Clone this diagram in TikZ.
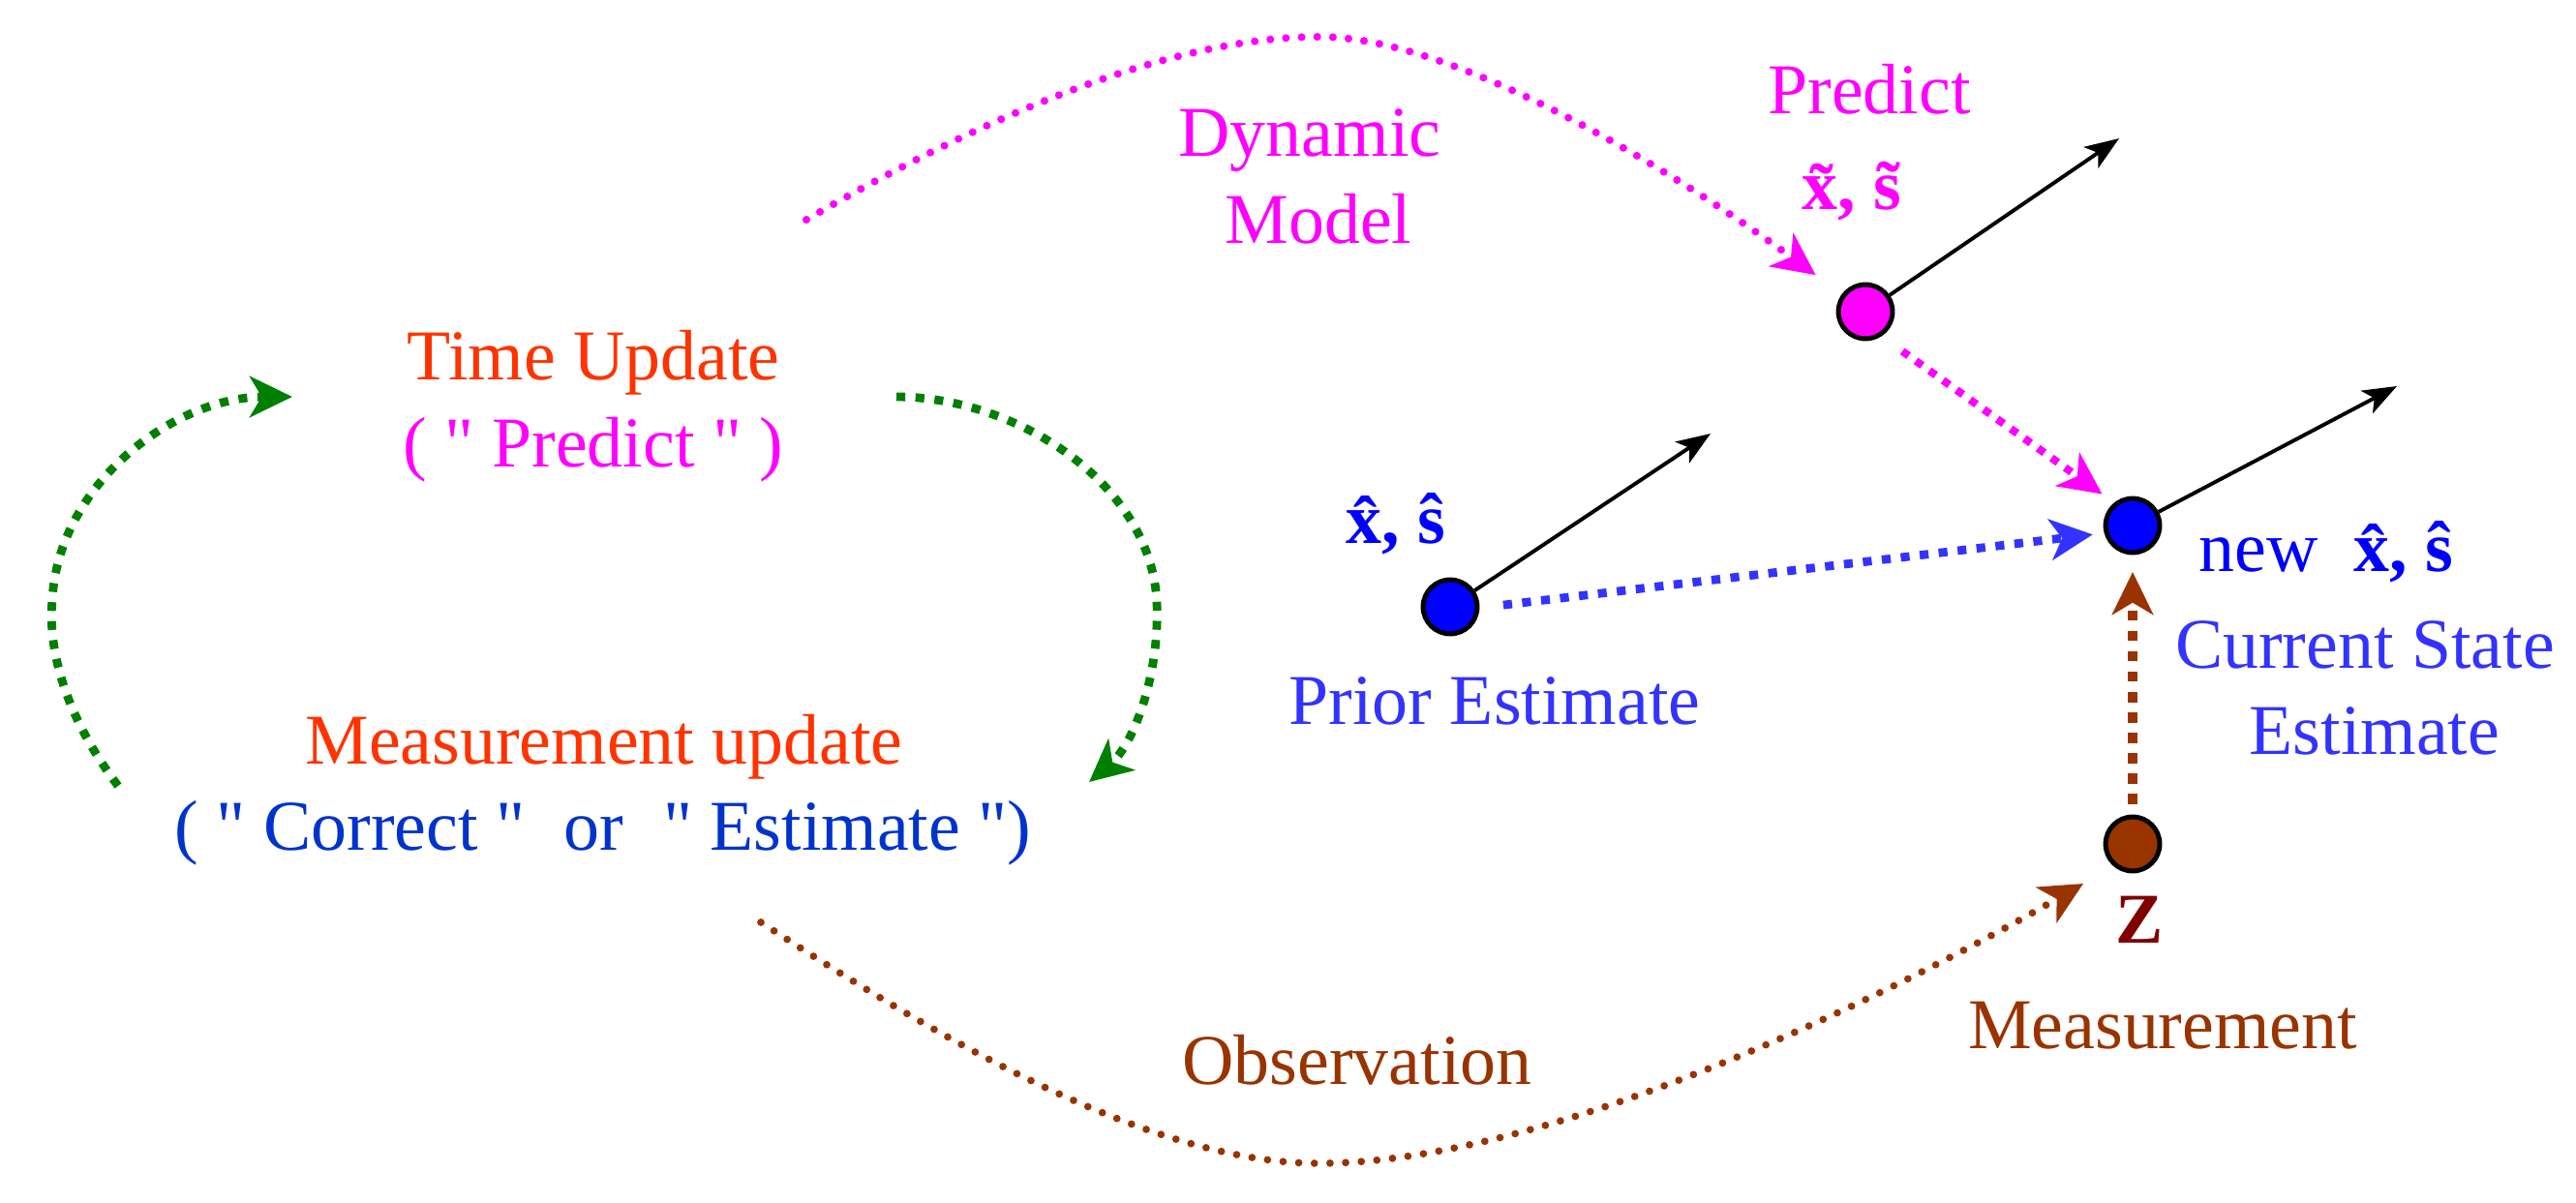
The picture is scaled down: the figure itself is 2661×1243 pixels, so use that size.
\documentclass[tikz,border=0pt]{standalone}
\usepackage{fontspec}
\newfontfamily\tms{Liberation Serif}
\usetikzlibrary{arrows.meta}
\definecolor{tuorange}{HTML}{FF3300}
\definecolor{pinkm}{HTML}{FF00FF}
\definecolor{cblue}{HTML}{0033CC}
\definecolor{lblue}{HTML}{3333FF}
\definecolor{pblue}{HTML}{0000FF}
\definecolor{cgreen}{HTML}{008000}
\definecolor{brn}{HTML}{993300}
\definecolor{maroonz}{HTML}{800000}
\begin{document}
\begin{tikzpicture}[x=0.01cm,y=-0.01cm,
  lbl/.style={font=\tms\fontsize{21}{25}\selectfont, inner sep=0pt, anchor=base},
  state/.style={circle, draw=black, line width=1.4pt, minimum size=15.9pt, inner sep=0pt},
  vec/.style={line width=1.1pt, -{Stealth[length=10pt,width=7.5pt,inset=2.5pt]}},
  bigtip/.style={-{Stealth[length=12.5pt,width=12pt,inset=3.5pt]}},
  dotline/.style={line width=2.3pt, line cap=round, dash pattern=on 0pt off 4.6pt},
  dashline/.style={line width=2.5pt, dash pattern=on 2.6pt off 3pt},
]
\useasboundingbox (0,0) rectangle (2661,1243);

% state circles
\node[state, fill=pinkm] (pc) at (1927,322) {};
\node[state, fill=pblue] (nc) at (2203,543) {};
\node[state, fill=pblue] (prc) at (1498,627) {};
\node[state, fill=brn] (bc) at (2203,872) {};

% vector ends and free ends
\coordinate (pv) at (2189,143);
\coordinate (nv) at (2476,399);
\coordinate (prv) at (1767,448);
\coordinate (dmstart) at (833,227);
\coordinate (obsstart) at (786,953);
\coordinate (obsend) at (2152,913);
\coordinate (gl0) at (122,812);
\coordinate (gl1) at (302,410);
\coordinate (gr0) at (926,410);
\coordinate (gr1) at (1125,808);

% black vectors
\draw[vec] (pc) -- (pv);
\draw[vec] (nc) -- (nv);
\draw[vec] (prc) -- (prv);

% labels
\node[lbl, text=tuorange] (tu) at (613,393) {Time Update};
\node[lbl, text=pinkm] (tup) at (613,482) {( " Predict " )};
\node[lbl, text=tuorange] (mu) at (624,789) {Measurement update};
\node[lbl, text=cblue] (mue) at (623,878) {( " Correct "\hspace{0.55em}or\hspace{0.55em}" Estimate ")};
\node[lbl, text=pinkm] (dyn1) at (1353,162) {Dynamic};
\node[lbl, text=pinkm] (dyn2) at (1362,252) {Model};
\node[lbl, text=pinkm] (pr1) at (1931,118) {Predict};
\node[lbl, text=pinkm] (pr2) at (1925,217) {\textbf{\~{x}, \~{s}}};
\node[lbl, text=pblue] (prl) at (1442,561) {\textbf{\^{x}, \^{s}}};
\node[lbl, text=lblue] (prt) at (1544,748) {Prior Estimate};
\node[lbl, anchor=base west, text=pblue] (nl) at (2271,590) {new\hspace{0.5em}\textbf{\^{x}, \^{s}}};
\node[lbl, text=lblue] (cs1) at (2443,690) {Current State};
\node[lbl, text=lblue] (cs2) at (2453,779) {Estimate};
\node[lbl, text=maroonz] (zl) at (2210,974) {\textbf{Z}};
\node[lbl, text=brn] (ml) at (2234,1083) {Measurement};
\node[lbl, text=brn] (obl) at (1402,1120) {Observation};

% green loop arrows
\draw[cgreen, dashline, bigtip] (gl0) .. controls (60,730) and (50,660) .. (54,620)
   .. controls (60,500) and (180,410) .. (gl1);
\draw[cgreen, dashline, bigtip] (gr0) .. controls (1050,410) and (1190,500) .. (1195,623)
   .. controls (1198,700) and (1170,770) .. (gr1);

% dynamic model (pink dotted)
\draw[pinkm, dotline, bigtip, shorten >=9.5pt] (dmstart) .. controls (1000,130) and (1200,38) .. (1363,38)
   .. controls (1500,38) and (1720,170) .. (pc);

% pink dashed predict -> new
\draw[pinkm, line width=2.3pt, dash pattern=on 2.3pt off 2.6pt, bigtip, shorten <=7.5pt, shorten >=4.3pt] (pc.-57) -- (nc.129);

% blue dashed prior -> new
\draw[lblue, dashline, bigtip, shorten <=7pt, shorten >=3.4pt] (prc.-2) -- (nc.-165);

% brown measurement -> new
\draw[brn, line width=2.6pt, dash pattern=on 3pt off 3pt, bigtip, shorten <=3pt, shorten >=5pt] (bc) -- (nc);

% observation (brown dotted)
\draw[brn, line width=2.2pt, line cap=round, dash pattern=on 0pt off 4.6pt, bigtip]
   (obsstart) .. controls (950,1060) and (1180,1202) .. (1362,1202)
   .. controls (1600,1202) and (1950,1030) .. (obsend);
\end{tikzpicture}
\end{document}
